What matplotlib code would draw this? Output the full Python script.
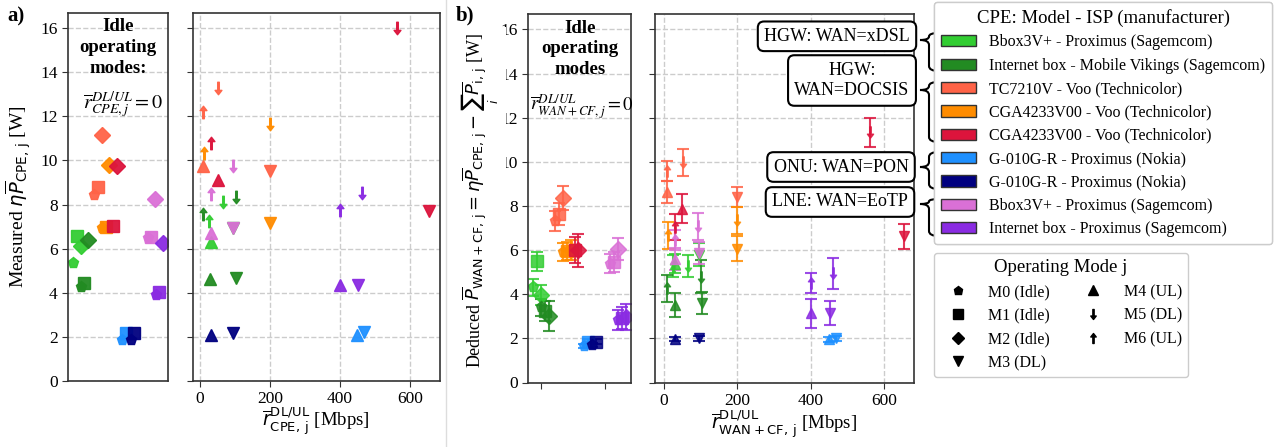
import numpy as np
import matplotlib
matplotlib.use('Agg')
import matplotlib.pyplot as plt
from matplotlib.path import Path
from matplotlib.patches import PathPatch, Patch
from matplotlib.lines import Line2D

W, H = 1274, 447

plt.rcParams['font.family'] = 'serif'
plt.rcParams['font.serif'] = ['Liberation Serif', 'DejaVu Serif']
plt.rcParams['mathtext.fontset'] = 'dejavusans'

nan = np.nan

# CPE devices (legend order) and their colours
devices = ['Bbox3V+ - Proximus (Sagemcom)',
           'Internet box - Mobile Vikings (Sagemcom)',
           'TC7210V - Voo (Technicolor)',
           'CGA4233V00 - Voo (Technicolor)',
           'CGA4233V00 - Voo (Technicolor)',
           'G-010G-R - Proximus (Nokia)',
           'G-010G-R - Proximus (Nokia)',
           'Bbox3V+ - Proximus (Sagemcom)',
           'Internet box - Proximus (Sagemcom)']
colors = ['limegreen', 'forestgreen', 'tomato', 'darkorange', 'crimson',
          'dodgerblue', 'navy', 'orchid', 'blueviolet']

# position of each device inside the idle panels, and offset per idle mode
idle_pos = [-0.3, 0.3, 1.4, 2.0, 2.6, 3.65, 4.3, 5.67, 6.3]
idle_offset = [-0.3, 0.0, 0.3]

# (a) measured power, idle modes M0, M1, M2 [W]
meas_m0 = [5.36, 4.25, 8.43, 6.95, nan, 1.86, 1.86, 6.47, 3.90]
meas_m1 = [6.57, 4.46, 8.81, 6.98, 7.03, 2.19, 2.16, 6.54, 4.05]
meas_m2 = [6.12, 6.39, 11.14, 9.79, 9.75, nan, nan, 8.26, 6.24]

# throughput of the active modes M3..M6 [Mbps]
rate_m3 = [95, 103, 200, 200, 655, 470, 95, 95, 452]
rate_m4 = [30, 29, 9, nan, 50, 450, 30, 30, 401]
rate_m5 = [66, 102, 51, 200, 562, nan, nan, 94, 462]
rate_m6 = [25, 9, 9, 10, 30, nan, nan, 30, 401]

# (a) measured power, active modes [W]
meas_m3 = [6.95, 4.65, 9.52, 7.15, 7.71, 2.20, 2.19, 6.95, 4.35]
meas_m4 = [6.32, 4.61, 9.75, nan, 9.11, 2.10, 2.08, 6.72, 4.35]
meas_m5 = [8.13, 8.33, 13.27, 11.65, 15.99, nan, nan, 9.75, 8.51]
meas_m6 = [7.27, 7.57, 12.18, 10.32, 10.77, nan, nan, 8.50, 7.75]

# (b) deduced WAN+CF power and its error [W]
ded_m0 = [4.31, 3.40, 7.31, 5.90, nan, 1.66, 1.70, 5.39, 2.83]
err_m0 = [0.37, 0.40, 0.45, 0.40, nan, 0.10, 0.10, 0.45, 0.45]
ded_m1 = [5.49, 3.25, 7.65, 5.95, 6.00, 1.85, 1.85, 5.46, 2.91]
err_m1 = [0.43, 0.45, 0.50, 0.40, 0.60, 0.10, 0.10, 0.45, 0.50]
ded_m2 = [3.96, 3.01, 8.37, 5.99, 5.99, nan, nan, 6.07, 2.98]
err_m2 = [0.45, 0.68, 0.55, 0.45, 0.75, nan, nan, 0.50, 0.60]
ded_m3 = [5.80, 3.61, 8.40, 6.07, 6.62, 2.00, 2.00, 5.87, 3.16]
err_m3 = [0.50, 0.50, 0.45, 0.55, 0.58, 0.10, 0.10, 0.50, 0.55]
ded_m4 = [5.39, 3.51, 8.62, nan, 7.87, 1.95, 1.96, 5.60, 3.13]
err_m4 = [0.45, 0.55, 0.50, nan, 0.65, 0.10, 0.10, 0.50, 0.67]
ded_m5 = [5.28, 4.79, 9.98, 7.35, 11.33, nan, nan, 7.07, 4.94]
err_m5 = [0.50, 0.75, 0.60, 0.62, 0.67, nan, nan, 0.60, 0.70]
ded_m6 = [5.30, 4.26, 9.60, 6.67, 7.04, nan, nan, 6.44, 4.51]
err_m6 = [0.50, 0.60, 0.45, 0.62, 0.60, nan, nan, 0.45, 0.45]

mode_labels = ['M0 (Idle)', 'M1 (Idle)', 'M2 (Idle)', 'M3 (DL)',
               'M4 (UL)', 'M5 (DL)', 'M6 (UL)']

down_arrow = Path([(-0.13, 1), (0.13, 1), (0.13, -0.3), (0.55, -0.3), (0, -1),
                   (-0.55, -0.3), (-0.13, -0.3), (-0.13, 1)],
                  [Path.MOVETO] + [Path.LINETO] * 6 + [Path.CLOSEPOLY])
up_arrow = Path(down_arrow.vertices * [1, -1], down_arrow.codes)

mode_markers = ['p', 's', 'D', 'v', '^', down_arrow, up_arrow]
mode_sizes = [8, 8.5, 8, 8.5, 8.5, 9, 9]


def fpx(x, y):
    return x / W, 1 - y / H


def style_axes(ax, idle):
    for s in ax.spines.values():
        s.set_color('#333333')
        s.set_linewidth(1.2)
    ax.set_ylim(0, 16.7)
    ax.set_yticks(range(0, 17, 2))
    ax.grid(axis='y' if idle else 'both', ls='--', color='#cccccc', lw=1)
    ax.set_axisbelow(True)
    ax.tick_params(labelsize=12.5, length=4, color='#333333')


fig = plt.figure(figsize=(W / 100, H / 100), dpi=100)

ax_a0 = fig.add_axes([68 / W, 1 - 381 / H, 100 / W, 368.3 / H])
ax_a1 = fig.add_axes([192.7 / W, 1 - 381 / H, 247.3 / W, 368.3 / H])
ax_b0 = fig.add_axes([528.3 / W, 1 - 382.5 / H, 102.7 / W, 368.5 / H])
ax_b1 = fig.add_axes([655 / W, 1 - 382.5 / H, 259 / W, 368.5 / H])

for ax in (ax_a0, ax_b0):
    style_axes(ax, True)
    ax.set_xlim(-1, 7)
ax_a0.set_xticks([])
ax_b0.set_xticks([0, 5])
ax_b0.set_xticklabels([])
for ax in (ax_a1, ax_b1):
    style_axes(ax, False)
    ax.set_xticks([0, 200, 400, 600])
    ax.tick_params(labelleft=False)
ax_a1.set_xlim(-21, 686)
ax_b1.set_xlim(-24.5, 682)

meas_idle = [meas_m0, meas_m1, meas_m2]
ded_idle = [(ded_m0, err_m0), (ded_m1, err_m1), (ded_m2, err_m2)]
rates = [rate_m3, rate_m4, rate_m5, rate_m6]
meas_act = [meas_m3, meas_m4, meas_m5, meas_m6]
ded_act = [(ded_m3, err_m3), (ded_m4, err_m4), (ded_m5, err_m5), (ded_m6, err_m6)]

for d, c in enumerate(colors):
    for m in range(3):
        x = idle_pos[d] + idle_offset[m]
        ax_a0.plot(x, meas_idle[m][d], marker=mode_markers[m], ms=mode_sizes[m],
                   color=c, mec=c, ls='none', alpha=0.95)
        y, e = ded_idle[m][0][d], ded_idle[m][1][d]
        ax_b0.errorbar(x, y, yerr=e, marker=mode_markers[m], ms=mode_sizes[m],
                       color=c, mec=c, ls='none', capsize=4, elinewidth=1.5,
                       capthick=1.5, alpha=0.85)
    for k in range(4):
        m = k + 3
        ax_a1.plot(rates[k][d], meas_act[k][d], marker=mode_markers[m],
                   ms=mode_sizes[m], color=c, mec=c, ls='none', alpha=0.95)
        y, e = ded_act[k][0][d], ded_act[k][1][d]
        ax_b1.errorbar(rates[k][d], y, yerr=e, marker=mode_markers[m],
                       ms=mode_sizes[m] * 0.9, color=c, mec=c, ls='none',
                       capsize=4, elinewidth=1.5, capthick=1.5, alpha=0.85)

# idle panel annotations
ax_a0.text(0.5, 0.985, 'Idle\noperating\nmodes:', transform=ax_a0.transAxes,
           ha='center', va='top', fontsize=13.5, fontweight='bold', linespacing=1.3)
ax_a0.text(0.55, 0.75, r'$\overline{r}_{CPE,j}^{DL/UL}=0$', transform=ax_a0.transAxes,
           ha='center', va='center', fontsize=14.5, math_fontfamily='stix')
ax_b0.text(0.5, 0.985, 'Idle\noperating\nmodes', transform=ax_b0.transAxes,
           ha='center', va='top', fontsize=13.5, fontweight='bold', linespacing=1.3)
ax_b0.text(0.52, 0.75, r'$\overline{r}_{WAN+CF,j}^{DL/UL}=0$', transform=ax_b0.transAxes,
           ha='center', va='center', fontsize=13.5, math_fontfamily='stix')

# axis labels
fig.text(*fpx(18, 197), r'Measured $\eta\overline{P}_{\mathsf{CPE,\,j}}$ [W]',
         rotation=90, ha='center', va='center', fontsize=14)
fig.text(*fpx(316, 421), r'$\overline{r}_{\mathsf{CPE,\,j}}^{\mathsf{DL/UL}}$ [Mbps]',
         ha='center', va='center', fontsize=13.5)
fig.text(*fpx(480, 200),
         r'Deduced $\overline{P}_{\mathsf{WAN+CF,\,j}}=\eta\overline{P}_{\mathsf{CPE,\,j}}'
         r'-\sum_i\overline{P}_{\mathsf{i,\,j}}$ [W]',
         rotation=90, ha='center', va='center', fontsize=13,
         bbox=dict(facecolor='white', edgecolor='none', pad=4))
fig.text(*fpx(784, 424), r'$\overline{r}_{\mathsf{WAN+CF,\,j}}^{\mathsf{DL/UL}}$ [Mbps]',
         ha='center', va='center', fontsize=13.5)
fig.text(*fpx(16, 16), 'a)', ha='center', va='center', fontsize=15, fontweight='bold')
fig.text(*fpx(465, 15), 'b)', ha='center', va='center', fontsize=15, fontweight='bold')

# thin separator between the two sub-figures
fig.add_artist(Line2D([446 / W, 446 / W], [0, 1], color='#dddddd', lw=1))

# legends
dev_handles = [Patch(facecolor=c, edgecolor='#333333', lw=1) for c in colors]
leg1 = fig.legend(dev_handles, devices, loc='upper left', bbox_to_anchor=fpx(934, 2),
                  title='CPE: Model - ISP (manufacturer)', fontsize=11.5,
                  title_fontsize=13.5, labelspacing=0.46, handlelength=2.2,
                  handleheight=0.7, handletextpad=0.8, borderpad=0.45,
                  borderaxespad=0, edgecolor='#cccccc', framealpha=1, fancybox=True)
fig.add_artist(leg1)
mode_handles = [Line2D([], [], marker=mk, color='black', ls='none', ms=s * 0.8)
                for mk, s in zip(mode_markers, mode_sizes)]
fig.legend(mode_handles, mode_labels, loc='upper left', bbox_to_anchor=fpx(934, 253),
           title='Operating Mode j', ncol=2, fontsize=11.5, title_fontsize=13.5,
           labelspacing=0.48, handlelength=2.2, handletextpad=0.8, columnspacing=1.6,
           borderpad=0.4, borderaxespad=0, edgecolor='#cccccc', framealpha=1, fancybox=True)

# technology boxes and braces
groups = [('HGW: WAN=xDSL', 837, 36.3, 40, 33, 71),
          ('HGW:\nWAN=DOCSIS', 852, 80.5, 90, 82, 142),
          ('ONU: WAN=PON', 841, 167, 167, 152, 189),
          ('LNE: WAN=EoTP', 840, 202, 204, 199, 236)]
for txt, cx, cy, ytip, ytop, ybot in groups:
    fig.text(*fpx(cx, cy), txt, ha='center', va='center', fontsize=13,
             multialignment='center', linespacing=1.3,
             bbox=dict(boxstyle='round,pad=0.35', facecolor='white',
                       edgecolor='black', lw=1.5))
    xt, xs, xe = 920, 929, 939
    r1 = min(5, (ytip - ytop) / 2)
    r2 = min(5, (ybot - ytip) / 2)
    pts = [(xe, ytop), (xs, ytop), (xs, ytop + r1), (xs, ytip - r1), (xs, ytip),
           (xt, ytip), (xs, ytip), (xs, ytip + r2), (xs, ybot - r2), (xs, ybot),
           (xe, ybot)]
    codes = [Path.MOVETO, Path.CURVE3, Path.CURVE3, Path.LINETO, Path.CURVE3,
             Path.CURVE3, Path.CURVE3, Path.CURVE3, Path.LINETO, Path.CURVE3,
             Path.CURVE3]
    verts = [fpx(x, y) for x, y in pts]
    fig.add_artist(PathPatch(Path(verts, codes), transform=fig.transFigure,
                             facecolor='none', edgecolor='black', lw=1.5))

fig.savefig('out.png', dpi=100)
